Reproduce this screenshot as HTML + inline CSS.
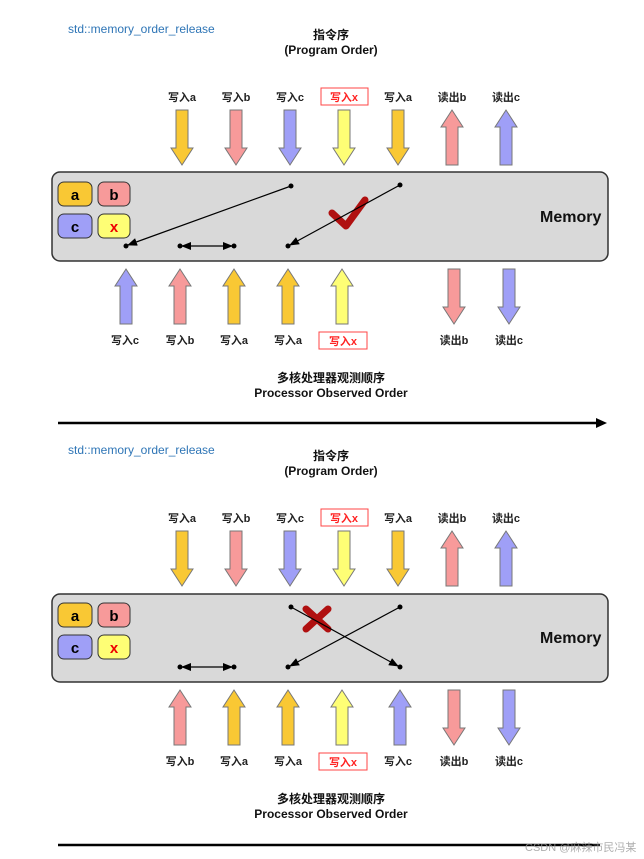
<!DOCTYPE html>
<html><head><meta charset="utf-8"><style>
body{margin:0;background:#fff}
svg{display:block}
text{font-family:"Liberation Sans","Noto Sans CJK SC",sans-serif}
.l{font-size:11px;font-weight:bold;text-anchor:middle;fill:#222}
.t{font-size:12px;font-weight:bold;text-anchor:middle;fill:#111}
.m{font-size:16px;font-weight:bold;fill:#111}
.k{font-size:15px;font-weight:bold;text-anchor:middle}
</style></head><body>
<svg width="644" height="859" viewBox="0 0 644 859" xmlns="http://www.w3.org/2000/svg">
<defs>
<path id="dn" d="M-6,0 H6 V38 H11 L0,55 L-11,38 H-6 Z" stroke="#777" stroke-width="1"/>
<path id="up" d="M-6,55 H6 V17 H11 L0,0 L-11,17 H-6 Z" stroke="#777" stroke-width="1"/>
<marker id="ah" markerWidth="10" markerHeight="8" refX="9" refY="4" orient="auto" markerUnits="userSpaceOnUse"><path d="M0,0 L10,4 L0,8 Z" fill="#000"/></marker>
<marker id="ahs" markerWidth="10" markerHeight="8" refX="1" refY="4" orient="auto" markerUnits="userSpaceOnUse"><path d="M10,0 L0,4 L10,8 Z" fill="#000"/></marker>
</defs>

<!-- PANEL 1 -->
<g>
<text x="68" y="33" font-size="12" fill="#2E75B6">std::memory_order_release</text>
<text x="331" y="39" class="t">指令序</text>
<text x="331" y="54" class="t">(Program Order)</text>
<text x="182" y="101" class="l">写入a</text>
<text x="236" y="101" class="l">写入b</text>
<text x="290" y="101" class="l">写入c</text>
<rect x="321" y="88" width="47" height="17" fill="#fff" stroke="#f44"/>
<text x="344" y="101" class="l" fill="#f22" style="fill:#f22">写入x</text>
<text x="398" y="101" class="l">写入a</text>
<text x="452" y="101" class="l">读出b</text>
<text x="506" y="101" class="l">读出c</text>
<use href="#dn" x="182" y="110" fill="#F9C834"/>
<use href="#dn" x="236" y="110" fill="#F79A9A"/>
<use href="#dn" x="290" y="110" fill="#9F9FF7"/>
<use href="#dn" x="344" y="110" fill="#FEFE75"/>
<use href="#dn" x="398" y="110" fill="#F9C834"/>
<use href="#up" x="452" y="110" fill="#F79A9A"/>
<use href="#up" x="506" y="110" fill="#9F9FF7"/>
<rect x="52" y="172" width="556" height="89" rx="8" fill="#D9D9D9" stroke="#333" stroke-width="1.5"/>
<rect x="58" y="182" width="34" height="24" rx="6" fill="#F9C834" stroke="#333"/>
<rect x="98" y="182" width="32" height="24" rx="6" fill="#F79A9A" stroke="#333"/>
<rect x="58" y="214" width="34" height="24" rx="6" fill="#9F9FF7" stroke="#333"/>
<rect x="98" y="214" width="32" height="24" rx="6" fill="#FEFE75" stroke="#333"/>
<text x="75" y="200" class="k">a</text><text x="114" y="200" class="k">b</text>
<text x="75" y="232" class="k">c</text><text x="114" y="232" class="k" fill="#e00">x</text>
<text x="540" y="222" class="m">Memory</text>
<path d="M332,213 L346,226 L365,200" stroke="#B01010" stroke-width="7" fill="none" stroke-linecap="round" stroke-linejoin="round"/>
<circle cx="291" cy="186" r="2.5"/><circle cx="126" cy="246" r="2.5"/>
<line x1="291" y1="186" x2="128" y2="245" stroke="#000" stroke-width="1.2" marker-end="url(#ah)"/>
<circle cx="400" cy="185" r="2.5"/><circle cx="288" cy="246" r="2.5"/>
<line x1="400" y1="185" x2="290" y2="245" stroke="#000" stroke-width="1.2" marker-end="url(#ah)"/>
<circle cx="180" cy="246" r="2.5"/><circle cx="234" cy="246" r="2.5"/>
<line x1="182" y1="246" x2="232" y2="246" stroke="#000" stroke-width="1.2" marker-start="url(#ahs)" marker-end="url(#ah)"/>
<use href="#up" x="126" y="269" fill="#9F9FF7"/>
<use href="#up" x="180" y="269" fill="#F79A9A"/>
<use href="#up" x="234" y="269" fill="#F9C834"/>
<use href="#up" x="288" y="269" fill="#F9C834"/>
<use href="#up" x="342" y="269" fill="#FEFE75"/>
<use href="#dn" x="454" y="269" fill="#F79A9A"/>
<use href="#dn" x="509" y="269" fill="#9F9FF7"/>
<text x="125" y="344" class="l">写入c</text>
<text x="180" y="344" class="l">写入b</text>
<text x="234" y="344" class="l">写入a</text>
<text x="288" y="344" class="l">写入a</text>
<rect x="319" y="332" width="48" height="17" fill="#fff" stroke="#f44"/>
<text x="343" y="345" class="l" style="fill:#f22">写入x</text>
<text x="454" y="344" class="l">读出b</text>
<text x="509" y="344" class="l">读出c</text>
<text x="331" y="382" class="t">多核处理器观测顺序</text>
<text x="331" y="397" class="t">Processor Observed Order</text>
<line x1="58" y1="423" x2="598" y2="423" stroke="#000" stroke-width="2.5"/>
<path d="M596,418 L607,423 L596,428 Z" fill="#000"/>
</g>

<!-- PANEL 2 -->
<g transform="translate(0,421)">
<text x="68" y="33" font-size="12" fill="#2E75B6">std::memory_order_release</text>
<text x="331" y="39" class="t">指令序</text>
<text x="331" y="54" class="t">(Program Order)</text>
<text x="182" y="101" class="l">写入a</text>
<text x="236" y="101" class="l">写入b</text>
<text x="290" y="101" class="l">写入c</text>
<rect x="321" y="88" width="47" height="17" fill="#fff" stroke="#f44"/>
<text x="344" y="101" class="l" style="fill:#f22">写入x</text>
<text x="398" y="101" class="l">写入a</text>
<text x="452" y="101" class="l">读出b</text>
<text x="506" y="101" class="l">读出c</text>
<use href="#dn" x="182" y="110" fill="#F9C834"/>
<use href="#dn" x="236" y="110" fill="#F79A9A"/>
<use href="#dn" x="290" y="110" fill="#9F9FF7"/>
<use href="#dn" x="344" y="110" fill="#FEFE75"/>
<use href="#dn" x="398" y="110" fill="#F9C834"/>
<use href="#up" x="452" y="110" fill="#F79A9A"/>
<use href="#up" x="506" y="110" fill="#9F9FF7"/>
<rect x="52" y="173" width="556" height="88" rx="8" fill="#D9D9D9" stroke="#333" stroke-width="1.5"/>
<rect x="58" y="182" width="34" height="24" rx="6" fill="#F9C834" stroke="#333"/>
<rect x="98" y="182" width="32" height="24" rx="6" fill="#F79A9A" stroke="#333"/>
<rect x="58" y="214" width="34" height="24" rx="6" fill="#9F9FF7" stroke="#333"/>
<rect x="98" y="214" width="32" height="24" rx="6" fill="#FEFE75" stroke="#333"/>
<text x="75" y="200" class="k">a</text><text x="114" y="200" class="k">b</text>
<text x="75" y="232" class="k">c</text><text x="114" y="232" class="k" fill="#e00">x</text>
<text x="540" y="222" class="m">Memory</text>
<path d="M306,188 L328,208 M328,188 L306,208" stroke="#B01010" stroke-width="7" fill="none" stroke-linecap="round"/>
<circle cx="291" cy="186" r="2.5"/><circle cx="400" cy="246" r="2.5"/>
<line x1="291" y1="186" x2="398" y2="245" stroke="#000" stroke-width="1.2" marker-end="url(#ah)"/>
<circle cx="400" cy="186" r="2.5"/><circle cx="288" cy="246" r="2.5"/>
<line x1="400" y1="186" x2="290" y2="245" stroke="#000" stroke-width="1.2" marker-end="url(#ah)"/>
<circle cx="180" cy="246" r="2.5"/><circle cx="234" cy="246" r="2.5"/>
<line x1="182" y1="246" x2="232" y2="246" stroke="#000" stroke-width="1.2" marker-start="url(#ahs)" marker-end="url(#ah)"/>
<use href="#up" x="180" y="269" fill="#F79A9A"/>
<use href="#up" x="234" y="269" fill="#F9C834"/>
<use href="#up" x="288" y="269" fill="#F9C834"/>
<use href="#up" x="342" y="269" fill="#FEFE75"/>
<use href="#up" x="400" y="269" fill="#9F9FF7"/>
<use href="#dn" x="454" y="269" fill="#F79A9A"/>
<use href="#dn" x="509" y="269" fill="#9F9FF7"/>
<text x="180" y="344" class="l">写入b</text>
<text x="234" y="344" class="l">写入a</text>
<text x="288" y="344" class="l">写入a</text>
<rect x="319" y="332" width="48" height="17" fill="#fff" stroke="#f44"/>
<text x="343" y="345" class="l" style="fill:#f22">写入x</text>
<text x="398" y="344" class="l">写入c</text>
<text x="454" y="344" class="l">读出b</text>
<text x="509" y="344" class="l">读出c</text>
<text x="331" y="382" class="t">多核处理器观测顺序</text>
<text x="331" y="397" class="t">Processor Observed Order</text>
<line x1="58" y1="424" x2="600" y2="424" stroke="#000" stroke-width="2.5"/>
</g>
<text x="525" y="851" font-size="11" fill="#999" opacity="0.8">CSDN @麻辣市民冯某</text>
</svg>
</body></html>
